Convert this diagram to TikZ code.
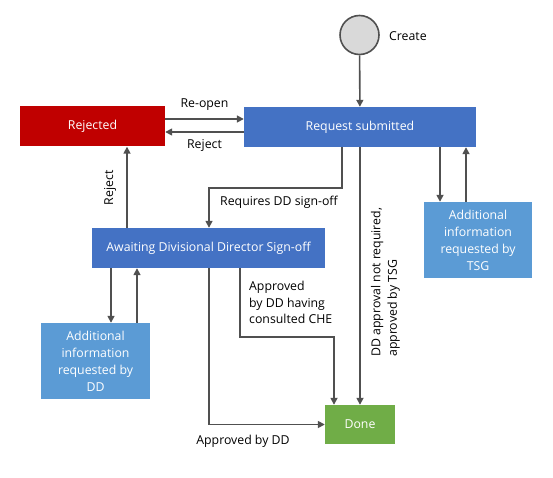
\documentclass[tikz,border=0pt]{standalone}
\usepackage{fontspec}
\setmainfont{Open Sans}
\usepackage{xcolor}
\usepackage{tikz}
\usetikzlibrary{arrows.meta, positioning}
\definecolor{rejred}{HTML}{C00000}
\definecolor{stateblue}{HTML}{4472C4}
\definecolor{infoblue}{HTML}{5B9BD5}
\definecolor{donegreen}{HTML}{70AD47}
\definecolor{flowgray}{HTML}{505050}

\begin{document}
\begin{tikzpicture}[
          x=1pt, y=-1pt,
          statebox/.style={rectangle, inner sep=0pt, align=center, text=white, font=\fontsize{12.3}{17}\selectfont},
          lbl/.style={inner sep=0pt, font=\fontsize{12.3}{16.5}\selectfont},
          arr/.style={-{Triangle[length=7pt, width=7pt]}, line width=1.6pt, draw=flowgray}
        ]
          \useasboundingbox (0,0) rectangle (553,478);

          % states
          \node[circle, draw=flowgray, line width=1.6pt, fill=black!15, minimum size=39pt, inner sep=0pt] (start) at (359.5,35) {};
          \node[lbl, anchor=west] (createlbl) at (389,36) {Create};
          \node[statebox, fill=rejred, minimum width=145pt, minimum height=40pt] (rej) at (92.5,126.5) {Rejected};
          \node[statebox, fill=stateblue, minimum width=232pt, minimum height=40pt] (req) at (360,127) {Request submitted};
          \node[statebox, fill=infoblue, minimum width=108pt, minimum height=76pt] (tsg) at (478,240) {Additional\\information\\requested by\\TSG};
          \node[statebox, fill=stateblue, minimum width=233pt, minimum height=40pt] (aw) at (208.5,248) {Awaiting Divisional Director Sign-off};
          \node[statebox, fill=infoblue, minimum width=109pt, minimum height=76pt] (dd) at (95.5,361) {Additional\\information\\requested by\\DD};
          \node[statebox, fill=donegreen, minimum width=70pt, minimum height=39pt] (done) at (360,424.5) {Done};

          % x positions of the vertical connectors
          \coordinate (xrej) at (127,0);
          \coordinate (xddin) at (111,0);
          \coordinate (xddout) at (137,0);
          \coordinate (xsign) at (342,0);
          \coordinate (xtsgin) at (440,0);
          \coordinate (xtsgout) at (466,0);
          \coordinate (xche) at (240,0);
          \coordinate (xdd) at (209,0);
          \coordinate (xchein) at (334,0);

          \draw[arr] (start) -- (req);
          \draw[arr] ([yshift=7.5pt]rej.east) -- node[lbl, above=8pt] {Re-open} ([yshift=8pt]req.west);
          \draw[arr] ([yshift=-5pt]req.west) -- node[lbl, below=7pt] {Reject} ([yshift=-5.5pt]rej.east);
          \draw[arr] (req.south -| xtsgin) -- (tsg.north -| xtsgin);
          \draw[arr] (tsg.north -| xtsgout) -- (req.south -| xtsgout);
          \draw[arr] (req.south -| xsign) -- ++(0,41) -| (aw.north -| xdd);
          \node[lbl] (signlbl) at (279,202) {Requires DD sign-off};
          \draw[arr] (aw.north -| xrej) -- (rej.south -| xrej);
          \node[lbl, rotate=90] (rejlbl) at (110,188) {Reject};
          \draw[arr] (aw.south -| xddin) -- (dd.north -| xddin);
          \draw[arr] (dd.north -| xddout) -- (aw.south -| xddout);
          \draw[arr] (aw.south -| xdd) |- (done.west);
          \node[lbl] (ddlbl) at (243,441) {Approved by DD};
          \draw[arr] (aw.south -| xche) -- ++(0,69) -| (done.north -| xchein);
          \node[lbl, anchor=north west, align=left] (chelbl) at (249,281) {Approved\\by DD having\\consulted CHE};
          \draw[arr] (req.south) -- (done.north);
          \node[lbl, rotate=90, anchor=west, align=left] (tsglbl) at (385.5,357) {DD approval not required,\\approved by TSG};
        \end{tikzpicture}
\end{document}
